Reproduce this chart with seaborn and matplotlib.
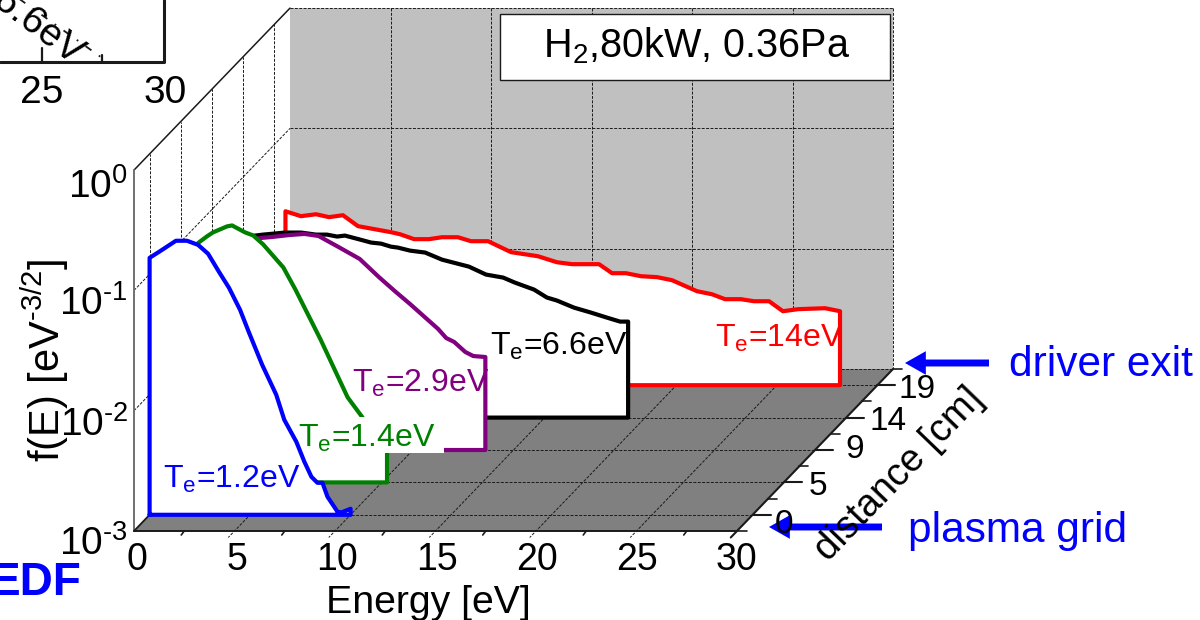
import pandas as pd
import seaborn as sns
import matplotlib
matplotlib.use("Agg")
import pylab as plt

# energy [eV] and log10 f(E) for every distance, front to back
e_12 = [0, 0.47, 1.31, 1.86, 2.41, 2.91, 3.45, 3.95, 4.5, 4.95, 5.6, 6.3, 6.7, 7.3, 7.7, 8.05, 8.35, 8.6, 8.85, 9.35, 9.55, 10.0]
f_12 = [-0.864, -0.814, -0.722, -0.722, -0.756, -0.83, -0.98, -1.113, -1.296, -1.487, -1.753, -2.002, -2.21, -2.393, -2.559, -2.684, -2.734, -2.734, -2.85, -2.975, -2.98, -2.95]
e_14 = [0, 0.9, 1.3, 1.6, 2.3, 2.55, 3.2, 3.6, 4.1, 5.1, 5.7, 6.2, 6.95, 8.3, 9.0, 9.6, 10.26]
f_14 = [-1.146, -1.005, -0.955, -0.922, -0.872, -0.864, -0.922, -0.947, -1.022, -1.213, -1.396, -1.562, -1.811, -2.293, -2.451, -2.6, -2.7]
e_29 = [0, 1.2, 2.4, 3.0, 3.85, 4.6, 5.3, 6.3, 7.35, 8.3, 9.15, 9.85, 11.25, 11.65, 12.05, 12.6, 13.0, 13.6]
f_29 = [-1.3, -1.27, -1.238, -1.229, -1.213, -1.204, -1.221, -1.313, -1.412, -1.562, -1.687, -1.786, -1.994, -2.069, -2.102, -2.185, -2.219, -2.227]
e_66 = [0, 0.98, 2.08, 2.88, 3.62, 4.17, 4.67, 5.06, 5.81, 6.36, 6.86, 7.35, 7.7, 8.3, 9.05, 9.89, 11.23, 12.08, 12.93, 13.52, 14.47, 15.11, 15.61, 16.46, 17.3, 18.1, 18.75, 19.15]
f_66 = [-1.5, -1.479, -1.462, -1.462, -1.479, -1.479, -1.495, -1.487, -1.52, -1.545, -1.554, -1.579, -1.587, -1.612, -1.628, -1.687, -1.745, -1.811, -1.836, -1.878, -1.936, -2.002, -2.027, -2.086, -2.127, -2.169, -2.202, -2.202]
e_140 = [0.55, 1.32, 2.07, 2.72, 3.41, 4.16, 5.8, 6.25, 6.95, 7.69, 8.34, 9.13, 9.78, 10.63, 11.77, 13.11, 14.06, 14.81, 16.15, 16.8, 17.49, 18.24, 19.04, 19.78, 21.03, 21.77, 22.42, 23.21, 23.86, 24.61, 25.3, 26.05, 27.39, 28.14]
f_140 = [-1.554, -1.595, -1.579, -1.603, -1.587, -1.678, -1.728, -1.745, -1.786, -1.786, -1.77, -1.77, -1.803, -1.803, -1.894, -1.928, -1.978, -1.994, -1.994, -2.069, -2.069, -2.094, -2.102, -2.127, -2.219, -2.244, -2.285, -2.285, -2.302, -2.302, -2.385, -2.368, -2.36, -2.385]

curve_labels = ["T$_{e}$=1.2eV", "T$_{e}$=1.4eV", "T$_{e}$=2.9eV", "T$_{e}$=6.6eV", "T$_{e}$=14eV"]
curve_colors = ["#0000ff", "#008000", "#800080", "#000000", "#ff0000"]
distance_labels = ["0", "5", "9", "14", "19"]
energy_ticks = [0, 5, 10, 15, 20, 25, 30]
decades = [0, -1, -2, -3]


def project(e, logf, z):
    # oblique view: z counts the distance bands from the front edge
    return 134 + 20.1 * e + 31.2 * z, 531 - 32.4 * z - 120.3 * (logf + 3)


def edge(ax, p0, p1, color="k", lw=0.7, ls=(0, (3, 1.5)), zorder=2):
    x0, y0 = project(*p0)
    x1, y1 = project(*p1)
    ax.plot([x0, x1], [y0, y1], color=color, lw=lw, ls=ls, zorder=zorder)


def box(ax):
    x, y = project(0, 0, 5)
    x1, y1 = project(30, -3, 5)
    ax.fill([x, x1, x1, x], [y, y, y1, y1], color="#c0c0c0", lw=0, zorder=1)
    fx, fy = zip(*[project(0, -3, 0), project(30, -3, 0), project(30, -3, 5), project(0, -3, 5)])
    ax.fill(fx, fy, color="#808080", lw=0, zorder=1)
    for e in energy_ticks[1:-1]:
        edge(ax, (e, 0, 5), (e, -3, 5))
        edge(ax, (e, -3, 5), (e, -3, -0.2))
    for d in decades[1:3]:
        edge(ax, (0, d, 5), (30, d, 5))
        edge(ax, (0, d, 0), (0, d, 5))
    dist_off = [(31, 10), (34, 4), (40, -1), (42, 4), (40, 4)]
    for i in range(5):
        edge(ax, (0, -3, i + 0.5), (30, -3, i + 0.5))
        edge(ax, (0, -3, i + 0.5), (0, 0, i + 0.5))
        x, y = project(30, -3, i + 0.5)
        ax.plot([x, x + 18], [y, y], color="k", lw=1.5, zorder=2)
        ax.text(x + dist_off[i][0], y + dist_off[i][1], distance_labels[i], fontsize=24,
                ha="center", va="center", zorder=9)
        x, y = project(30, -3, i + 1)
        ax.plot([x, x + 9], [y, y], color="k", lw=1.2, zorder=2)
    edge(ax, (0, 0, 5), (30, 0, 5))
    edge(ax, (30, 0, 5), (30, -3, 5))
    edge(ax, (0, -3, 5), (30, -3, 5))
    edge(ax, (0, 0, 0), (0, 0, 5), ls="-", lw=1.1)
    edge(ax, (0, 0, 0), (0, -3, 0), color="#707070", ls="-", lw=1.4)
    edge(ax, (0, -3, 0), (0, -3, 0.5), ls="-", lw=1.3)
    edge(ax, (0, -3, 0), (30, -3, 0), ls="-", lw=1.4)
    edge(ax, (30, -3, -0.2), (30, -3, 5), ls="-", lw=1.5)
    x, y = project(30, -3, 0)
    ax.plot([x, x + 10], [y, y], color="k", lw=1.2, zorder=2)
    for e in energy_ticks[:-1]:
        x, y = project(e + 2.5, -3, 0)
        ax.plot([x, x - 3], [y, y + 4], color="k", lw=1.2, zorder=2)
    for e in energy_ticks:
        x, y = project(e, -3, 0)
        ax.text(x + 3 - e * 0.12, y + 29, str(e), fontsize=27, ha="center", va="center", zorder=9)
    for d, yoff in zip(decades, [17, 14, 14, 13]):
        x, y = project(0, d, 0)
        ax.text(x - 6, y + yoff, "10$^{\\text{%d}}$" % d, fontsize=28, ha="right", va="center", zorder=9)


def curve(ax, e, f, z, color):
    x, y = project(pd.Series(e), pd.Series(f), z)
    x0, y0 = project(e[-1], -3, z)
    x1, y1 = project(e[0], -3, z)
    df = pd.DataFrame({"x": [x1] + list(x) + [x0, x1], "y": [y1] + list(y) + [y0, y1]})
    zo = 8 - z
    ax.fill(df.x, df.y, color="white", lw=0, zorder=zo)
    sns.lineplot(data=df, x="x", y="y", color=color, lw=3, sort=False, estimator=None,
                 ax=ax, zorder=zo)


def inset(ax):
    ax.plot([0, 164, 164], [62, 62, 0], color="k", lw=2.2, zorder=2)
    ax.plot([42, 42], [62, 48], color="k", lw=1.6, zorder=2)
    ax.plot([102, 102], [62, 55], color="k", lw=1.6, zorder=2)
    ax.plot([18, 105], [-2, 60], color="k", lw=1.3, ls=(0, (4, 5, 1, 5)), zorder=2)
    ax.text(38, 28, "6.6eV", fontsize=28, rotation=-37, ha="center", va="center", zorder=3)
    ax.text(42, 93, "25", fontsize=28, ha="center", va="center")
    ax.text(165, 93, "30", fontsize=28, ha="center", va="center")


def arrow(ax, x0, x1, y):
    ax.annotate("", xy=(x1, y), xytext=(x0, y), zorder=8.5,
                arrowprops=dict(facecolor="#0000ff", edgecolor="#0000ff", width=5, headwidth=17,
                                headlength=15, shrink=0, lw=0))


if __name__ == '__main__':
    sns.set_theme(style="white")
    plt.rcParams['font.family'] = ['Liberation Sans', 'DejaVu Sans']
    plt.rcParams['mathtext.fontset'] = 'custom'
    plt.rcParams['mathtext.rm'] = 'Liberation Sans'
    plt.rcParams['mathtext.default'] = 'regular'
    plt.rcParams['text.color'] = 'black'

    fig = plt.figure(figsize=(12, 6.2), dpi=100)
    ax = fig.add_axes([0, 0, 1, 1])
    ax.set_xlim(0, 1200)
    ax.set_ylim(620, 0)

    inset(ax)
    box(ax)

    series = [(e_12, f_12), (e_14, f_14), (e_29, f_29), (e_66, f_66), (e_140, f_140)]
    for i in range(4, -1, -1):
        curve(ax, series[i][0], series[i][1], i + 0.5, curve_colors[i])

    # the green label keeps a white background that hides the end of its curve
    ax.fill([298, 444, 444, 298], [417, 417, 453, 453], color="white", lw=0, zorder=7.1)
    label_pos = [(163, 488), (298, 447), (352, 392), (490, 355), (715, 347)]
    for i, (x, y) in enumerate(label_pos):
        ax.text(x, y, curve_labels[i], color=curve_colors[i], fontsize=23, va="baseline", zorder=10)

    ax.fill([500, 890, 890, 500], [14, 14, 80, 80], facecolor="white", edgecolor="k", lw=1, zorder=8)
    ax.text(697, 46, "H$_{2}$,80kW, 0.36Pa", fontsize=28.5, ha="center", va="center", zorder=9)

    ax.text(45, 360, "f(E) [eV$^{\\text{-3/2}}$]", fontsize=30, rotation=90, ha="center", va="center", zorder=9)
    ax.text(428, 603, "Energy [eV]", fontsize=28.3, ha="center", va="center", zorder=9)
    ax.text(899, 474, "distance [cm]", fontsize=27.5, rotation=46, ha="center", va="center",
            rotation_mode="anchor", zorder=9)
    ax.text(82, 583, "EDF", color="#0000ff", fontsize=33, fontweight="bold", ha="right", va="center")
    ax.text(1009, 365, "driver exit", color="#0000ff", fontsize=30.5, va="center")
    ax.text(908, 531, "plasma grid", color="#0000ff", fontsize=30.5, va="center")
    arrow(ax, 989, 905, 363)
    arrow(ax, 882, 769, 527)

    ax.set_xlabel("")
    ax.set_ylabel("")
    ax.axis("off")
    fig.savefig("out.png", dpi=100)
